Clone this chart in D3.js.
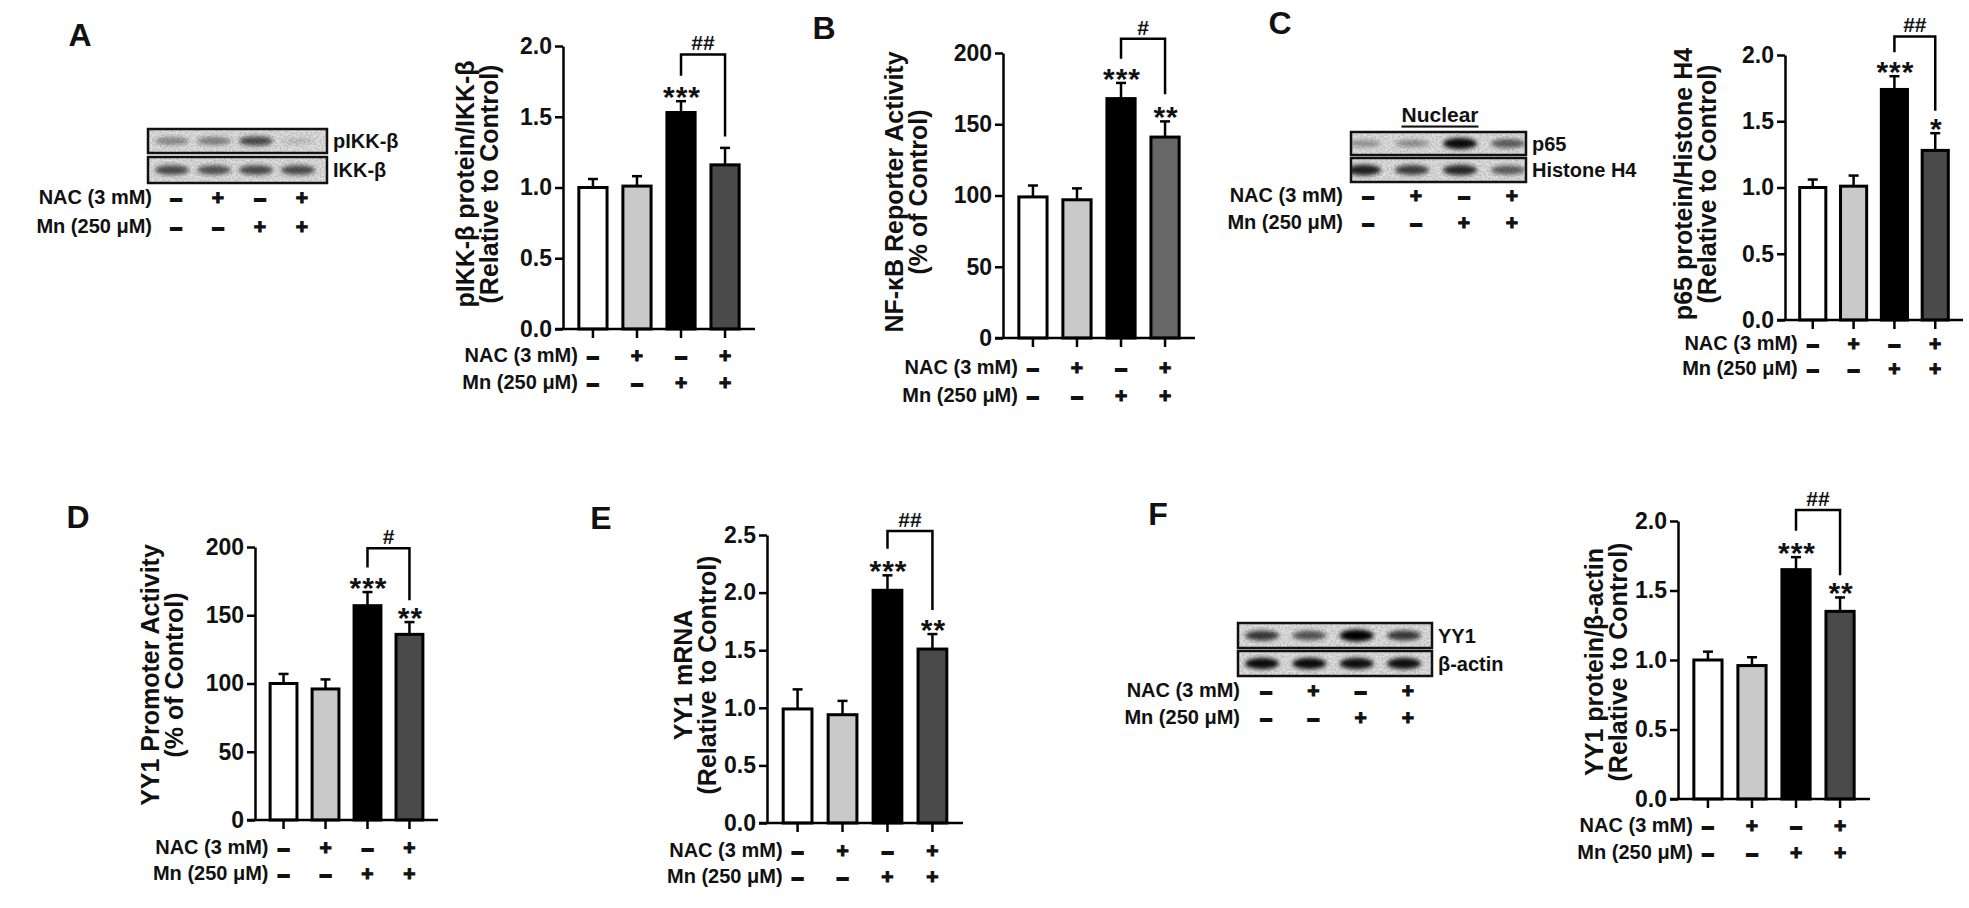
<!DOCTYPE html>
<html><head><meta charset="utf-8">
<script src="https://cdn.jsdelivr.net/npm/d3@7"></script>
<style>
body{margin:0;background:#fff}
svg{display:block}
text{font-family:"Liberation Sans",Arial,Helvetica,sans-serif;font-weight:bold;fill:#111}
</style>
</head><body>
<svg id="fig" width="1969" height="908"></svg>
<script>
// ---------------- data ----------------
const groups = ["Control", "NAC", "Mn", "NAC+Mn"];
const nacSigns = ["–", "+", "–", "+"];
const mnSigns = ["–", "–", "+", "+"];
const rowLabels = ["NAC (3 mM)", "Mn (250 μM)"];

// A: pIKK-beta / IKK-beta
const pikkMean = [1.00, 1.01, 1.53, 1.16];
const pikkErr = [0.06, 0.07, 0.08, 0.12];
const pikkStars = ["", "", "***", ""];
const pikkTicks = [0, 0.5, 1.0, 1.5, 2.0];
const pikkBracket = ["##", 1.94, 1.79, 1.36];

// B: NF-kB reporter activity
const nfkbMean = [99, 97, 168, 141];
const nfkbErr = [8, 8, 11, 11];
const nfkbStars = ["", "", "***", "**"];
const nfkbTicks = [0, 50, 100, 150, 200];
const nfkbBracket = ["#", 210, 196, 171];

// C: nuclear p65 / Histone H4
const p65Mean = [1.00, 1.01, 1.74, 1.28];
const p65Err = [0.06, 0.08, 0.10, 0.13];
const p65Stars = ["", "", "***", "*"];
const p65Ticks = [0, 0.5, 1.0, 1.5, 2.0];
const p65Bracket = ["##", 2.14, 2.02, 1.58];

// D: YY1 promoter activity
const yy1PromMean = [100, 96, 157, 136];
const yy1PromErr = [7, 7, 10, 9];
const yy1PromStars = ["", "", "***", "**"];
const yy1PromTicks = [0, 50, 100, 150, 200];
const yy1PromBracket = ["#", 199, 185, 161];

// E: YY1 mRNA
const yy1mMean = [0.99, 0.94, 2.02, 1.51];
const yy1mErr = [0.17, 0.12, 0.13, 0.13];
const yy1mStars = ["", "", "***", "**"];
const yy1mTicks = [0, 0.5, 1.0, 1.5, 2.0, 2.5];
const yy1mBracket = ["##", 2.535, 2.38, 1.85];

// F: YY1 protein / beta-actin
const yy1pMean = [1.00, 0.96, 1.65, 1.35];
const yy1pErr = [0.06, 0.06, 0.09, 0.10];
const yy1pStars = ["", "", "***", "**"];
const yy1pTicks = [0, 0.5, 1.0, 1.5, 2.0];
const yy1pBracket = ["##", 2.08, 1.93, 1.61];

// western blot band darkness (0..1) per lane
const blotA_pIKK = [0.38, 0.42, 0.66, 0.14];
const blotA_IKK = [0.66, 0.62, 0.66, 0.66];
const blotC_p65 = [0.32, 0.34, 0.95, 0.58];
const blotC_H4 = [0.85, 0.72, 0.82, 0.58];
const blotF_YY1 = [0.75, 0.62, 1.00, 0.74];
const blotF_actin = [0.95, 0.95, 0.93, 0.93];

// ---------------- drawing ----------------
const svg = d3.select("#fig");
const defs = svg.append("defs");
defs.append("filter").attr("id", "blur").attr("x", "-50%").attr("y", "-100%").attr("width", "200%").attr("height", "300%")
  .append("feGaussianBlur").attr("stdDeviation", 2.0);
const grain = defs.append("filter").attr("id", "grain");
grain.append("feTurbulence").attr("type", "fractalNoise").attr("baseFrequency", 0.55).attr("numOctaves", 2).attr("seed", 3);
grain.append("feColorMatrix").attr("type", "matrix")
  .attr("values", "0 0 0 0 0  0 0 0 0 0  0 0 0 0 0  0 0 0 -1.1 0.75");

const fills = ["#ffffff", "#c9c9c9", "#000000"];

function panelLetter(letter, x, y) {
  svg.append("text").attr("x", x).attr("y", y).attr("text-anchor", "middle")
    .attr("dominant-baseline", "central").style("font-size", "32px").text(letter);
}

function signRows(xs, nacY, mnY, labelRight) {
  const g = svg.append("g");
  [[nacSigns, nacY, rowLabels[0]], [mnSigns, mnY, rowLabels[1]]].forEach(([signs, yy, lab]) => {
    g.append("text").attr("x", labelRight).attr("y", yy).attr("text-anchor", "end")
      .attr("dominant-baseline", "central").style("font-size", "20px").text(lab);
    g.selectAll(null).data(signs).join("text")
      .attr("x", (d, i) => xs[i]).attr("y", yy).attr("text-anchor", "middle")
      .attr("dominant-baseline", "central").style("font-size", "21px")
      .attr("stroke", "#111").attr("stroke-width", d => d === "+" ? 1.1 : 2.0)
      .text(d => d);
  });
}

function barChart(cfg) {
  const { mean, err, stars, ticks, bracket, fmt, x0, x1, yTop, yBot, dark } = cfg;
  const g = svg.append("g");
  const x = d3.scaleBand().domain(groups).range([x0, x1]).paddingInner(0.36).paddingOuter(0.36);
  const y = d3.scaleLinear().domain([0, d3.max(ticks)]).range([yBot, yTop]);
  const cx = i => x(groups[i]) + x.bandwidth() / 2;

  // bars
  g.selectAll(".bar").data(mean).join("rect")
    .attr("x", (d, i) => x(groups[i])).attr("width", x.bandwidth())
    .attr("y", d => y(d)).attr("height", d => y(0) - y(d))
    .attr("fill", (d, i) => i < 3 ? fills[i] : dark)
    .attr("stroke", "#000").attr("stroke-width", 3);

  // error bars (upper only)
  const eb = g.selectAll(".eb").data(mean).join("g");
  eb.append("line").attr("x1", (d, i) => cx(i)).attr("x2", (d, i) => cx(i))
    .attr("y1", d => y(d)).attr("y2", (d, i) => y(d + err[i]))
    .attr("stroke", "#000").attr("stroke-width", 2.5);
  eb.append("line").attr("x1", (d, i) => cx(i) - 5).attr("x2", (d, i) => cx(i) + 5)
    .attr("y1", (d, i) => y(d + err[i])).attr("y2", (d, i) => y(d + err[i]))
    .attr("stroke", "#000").attr("stroke-width", 2.5);

  // axes
  const ya = g.append("g").attr("transform", `translate(${x0},0)`)
    .call(d3.axisLeft(y).tickValues(ticks).tickFormat(d3.format(fmt)).tickSize(8).tickSizeOuter(0).tickPadding(3));
  ya.select(".domain").attr("stroke", "#000").attr("stroke-width", 2.5);
  ya.selectAll(".tick line").attr("stroke", "#000").attr("stroke-width", 2.5);
  ya.selectAll(".tick text").attr("font-family", null).style("font-size", "23px").attr("fill", "#111");

  const xa = g.append("g").attr("transform", `translate(0,${yBot})`)
    .call(d3.axisBottom(x).tickSize(9).tickSizeOuter(0).tickFormat(""));
  xa.select(".domain").attr("stroke", "#000").attr("stroke-width", 2.5)
    .attr("d", `M${x0 - 8},0H${x1}`);
  xa.selectAll(".tick line").attr("stroke", "#000").attr("stroke-width", 2.5);

  // significance stars
  g.selectAll(".star").data(stars).join("text")
    .attr("x", (d, i) => cx(i) + 1).attr("y", (d, i) => y(mean[i] + err[i]) + 6)
    .attr("text-anchor", "middle").style("font-size", "30px").style("letter-spacing", "1px")
    .text(d => d);

  // bracket between Mn and NAC+Mn
  const [lab, top, lEnd, rEnd] = bracket;
  g.append("path")
    .attr("d", `M${cx(2)},${y(lEnd)}V${y(top)}H${cx(3)}V${y(rEnd)}`)
    .attr("fill", "none").attr("stroke", "#000").attr("stroke-width", 2.5);
  g.append("text").attr("x", (cx(2) + cx(3)) / 2).attr("y", y(top) - 4)
    .attr("text-anchor", "middle").style("font-size", "21px").text(lab);

  // y title
  cfg.title.forEach((t, i) => {
    svg.append("text").attr("transform", `translate(${cfg.titleX[i]},${cfg.titleY}) rotate(-90)`)
      .attr("text-anchor", "middle").attr("dominant-baseline", "central")
      .style("font-size", "25px").text(t);
  });

  signRows(groups.map((d, i) => cx(i)), cfg.nacY, cfg.mnY, cx(0) - 15);
}

function blot(cfg) {
  const g = svg.append("g");
  const lanes = d3.scalePoint().domain(groups).range(cfg.signX);
  cfg.rows.forEach((r, ri) => {
    const id = "clip" + cfg.id + ri;
    const w = cfg.box[1] - cfg.box[0], h = r[1] - r[0];
    defs.append("clipPath").attr("id", id).append("rect")
      .attr("x", cfg.box[0]).attr("y", r[0]).attr("width", w).attr("height", h);
    g.append("rect").attr("x", cfg.box[0]).attr("y", r[0]).attr("width", w)
      .attr("height", h).attr("fill", "#e2e2e2");
    const bandG = g.append("g").attr("clip-path", `url(#${id})`);
    bandG.append("rect").attr("x", cfg.box[0]).attr("y", r[0]).attr("width", w).attr("height", h)
      .attr("filter", "url(#grain)").attr("opacity", 0.35);
    bandG.selectAll("ellipse").data(cfg.bands[ri]).join("ellipse")
      .attr("cx", (d, i) => lanes(groups[i]) - 4).attr("cy", (r[0] + r[1]) / 2)
      .attr("rx", 17).attr("ry", d => 2.5 + d * 3.5)
      .attr("fill", "#000").attr("opacity", d => d).attr("filter", "url(#blur)");
    g.append("rect").attr("x", cfg.box[0]).attr("y", r[0]).attr("width", w)
      .attr("height", h).attr("fill", "none").attr("stroke", "#111").attr("stroke-width", 2.5);
    g.append("text").attr("x", cfg.labelX).attr("y", (r[0] + r[1]) / 2).attr("dominant-baseline", "central")
      .style("font-size", "20px").text(cfg.labels[ri]);
  });
  signRows(groups.map(d => lanes(d)), cfg.nacY, cfg.mnY, cfg.labelRight);
}

// ---- panel A ----
panelLetter("A", 80, 35);
blot({ id: "A", box: [148, 327], rows: [[129, 153], [157, 183]], labels: ["pIKK-β", "IKK-β"], labelX: 333,
  bands: [blotA_pIKK, blotA_IKK], signX: [176, 302], nacY: 197, mnY: 226, labelRight: 152 });
barChart({ mean: pikkMean, err: pikkErr, stars: pikkStars, ticks: pikkTicks, bracket: pikkBracket, fmt: ".1f",
  x0: 563, x1: 755, yTop: 46, yBot: 329, dark: "#4a4a4a", nacY: 355, mnY: 382,
  title: ["pIKK-β protein/IKK-β", "(Relative to Control)"], titleX: [465, 489], titleY: 184 });

// ---- panel B ----
panelLetter("B", 824, 28);
barChart({ mean: nfkbMean, err: nfkbErr, stars: nfkbStars, ticks: nfkbTicks, bracket: nfkbBracket, fmt: "d",
  x0: 1003, x1: 1195, yTop: 53, yBot: 338, dark: "#676767", nacY: 367, mnY: 395,
  title: ["NF-κB Reporter Activity", "(% of Control)"], titleX: [894, 918], titleY: 192 });

// ---- panel C ----
panelLetter("C", 1280, 23);
svg.append("text").attr("x", 1440).attr("y", 114).attr("text-anchor", "middle").attr("dominant-baseline", "central")
  .style("font-size", "21px").style("text-decoration", "underline").text("Nuclear");
blot({ id: "C", box: [1351, 1526], rows: [[132, 155], [158, 182]], labels: ["p65", "Histone H4"], labelX: 1532,
  bands: [blotC_p65, blotC_H4], signX: [1368, 1512], nacY: 195, mnY: 222, labelRight: 1343 });
barChart({ mean: p65Mean, err: p65Err, stars: p65Stars, ticks: p65Ticks, bracket: p65Bracket, fmt: ".1f",
  x0: 1785, x1: 1963, yTop: 55, yBot: 320, dark: "#4a4a4a", nacY: 343, mnY: 368,
  title: ["p65 protein/Histone H4", "(Relative to Control)"], titleX: [1683, 1707], titleY: 184 });

// ---- panel D ----
panelLetter("D", 78, 517);
barChart({ mean: yy1PromMean, err: yy1PromErr, stars: yy1PromStars, ticks: yy1PromTicks, bracket: yy1PromBracket, fmt: "d",
  x0: 255, x1: 438, yTop: 547, yBot: 820, dark: "#4a4a4a", nacY: 847, mnY: 873,
  title: ["YY1 Promoter Activity", "(% of Control)"], titleX: [150, 174], titleY: 675 });

// ---- panel E ----
panelLetter("E", 601, 518);
barChart({ mean: yy1mMean, err: yy1mErr, stars: yy1mStars, ticks: yy1mTicks, bracket: yy1mBracket, fmt: ".1f",
  x0: 767, x1: 963, yTop: 535, yBot: 823, dark: "#4a4a4a", nacY: 850, mnY: 876,
  title: ["YY1 mRNA", "(Relative to Control)"], titleX: [683, 707], titleY: 675 });

// ---- panel F ----
panelLetter("F", 1158, 514);
blot({ id: "F", box: [1238, 1432], rows: [[623, 648], [651, 676]], labels: ["YY1", "β-actin"], labelX: 1438,
  bands: [blotF_YY1, blotF_actin], signX: [1266, 1408], nacY: 690, mnY: 717, labelRight: 1240 });
barChart({ mean: yy1pMean, err: yy1pErr, stars: yy1pStars, ticks: yy1pTicks, bracket: yy1pBracket, fmt: ".1f",
  x0: 1678, x1: 1870, yTop: 521, yBot: 799, dark: "#4a4a4a", nacY: 825, mnY: 852,
  title: ["YY1 protein/β-actin", "(Relative to Control)"], titleX: [1594, 1618], titleY: 662 });
</script>
</body></html>
